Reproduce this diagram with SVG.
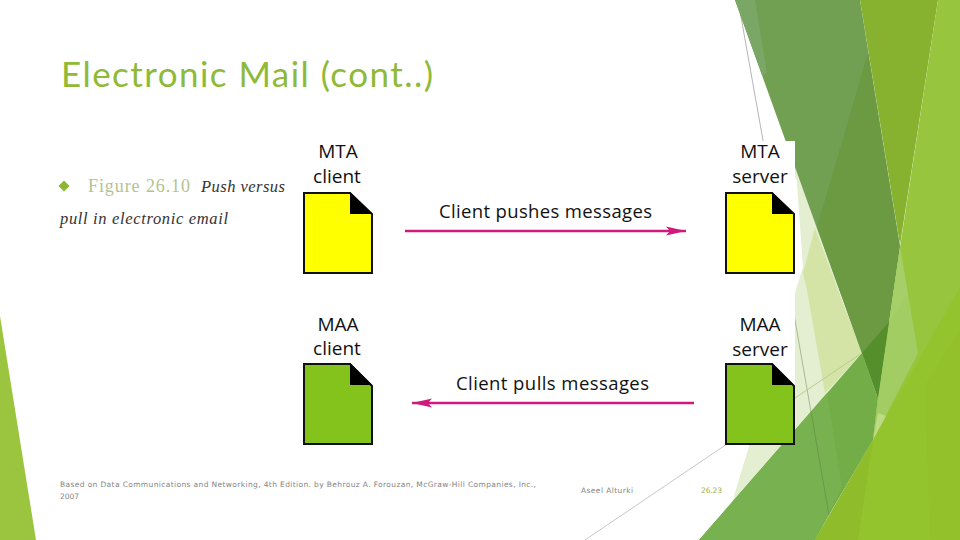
<svg xmlns="http://www.w3.org/2000/svg" width="960" height="540" viewBox="0 0 960 540">
<style>
.doc{stroke:#111;stroke-width:2}
.fold{fill:#000}
.lab{font-family:"Open Sans","Liberation Sans",sans-serif;font-size:19px;fill:#111;text-anchor:middle}
.msg{font-family:"Open Sans","Liberation Sans",sans-serif;font-size:18.5px;fill:#111}
.foot{font-family:"DejaVu Sans",sans-serif;font-size:7.5px;fill:#858585}
.ital{font-family:"Liberation Serif",serif;font-style:italic;font-size:16.5px;fill:#333}
.conn{stroke:#cf1a7c;stroke-width:2.5;fill:none}
</style>
<defs>
<marker id="ah" markerUnits="userSpaceOnUse" markerWidth="21" markerHeight="11" refX="20" refY="5.500" orient="auto"><path d="M0 1L20 5.500L0 10L4 5.500Z" fill="#cf1a7c"/></marker>
</defs>
<rect width="960" height="540" fill="#fff"/>
<g id="background">
<path d="M796 170L817 220L842 300L862 353L732 503L795 293L803 267Z" fill="#e4eed0"/>
<path d="M783 130L800 180L796 180Z" fill="#e4eed0"/>
<path d="M815 228L803 273L807 290L825 393L862 353L838 290Z" fill="#d3e4a6"/>
<path d="M738 0L795 320" stroke="#b5b5b5" stroke-width="1" fill="none"/>
<path d="M585 540L795 398" stroke="#c8c8c8" stroke-width="1" fill="none"/>
<path d="M735 0L860 0L900 247L878 398Z" fill="#72a052"/>
<path d="M735 0L755 0L767 73L762 75Z" fill="#7aa765"/>
<path d="M868 53L817 227L862 353L878 398L900 247Z" fill="#6b9a42"/>
<path d="M860 0L938 0L900 245Z" fill="#87b22f"/>
<path d="M938 0L960 0L960 540L815 540L873 440L878 398L900 247Z" fill="#97c63e"/>
<path d="M900 247L918 353L873 440L878 398Z" fill="#a2cd62"/>
<path d="M878 413L873 440L886 416Z" fill="#bcdb84"/>
<path d="M889 323L900 247L908 295Z" fill="#a6cf69"/>
<path d="M862 353L889 322L878 398Z" fill="#558f2b"/>
<path d="M699 540L862 353L878 398L873 440L829 515L815 540Z" fill="#72ad47"/>
<path d="M699 540L795 430L827 393L842 487L815 540Z" fill="#78b150"/>
<path d="M795 320L829 515" stroke="#5d7a4a" stroke-opacity=".45" stroke-width="1" fill="none"/>
<path d="M795 398L862 353" stroke="#b9cd95" stroke-width="1" fill="none"/>
<path d="M815 540L873 440L960 287L960 540Z" fill="#94c42d"/>
<path d="M815 540L858 540L873 440Z" fill="#8fbc2b"/>
<path d="M925 385L960 330L960 540L930 540Z" fill="#92c12c"/>
<path d="M0 316L36 540L0 540Z" fill="#9bc53f"/>
<rect x="297" y="141" width="498" height="304" fill="#fff"/>
</g>
<text x="61" y="87" font-family="Lato,sans-serif" font-size="35" fill="#8fba37" textLength="372" lengthAdjust="spacing">Electronic Mail (cont..)</text>
<g id="caption">
<path d="M58.500 186L64 180.500L69.500 186L64 191.500Z" fill="#8ab833"/>
<text x="88" y="192" font-family="Liberation Serif,serif" font-size="18" fill="#b5c290" textLength="102">Figure 26.10</text>
<text x="201" y="192" class="ital" textLength="84">Push versus</text>
<text x="60" y="224" class="ital" textLength="168">pull in electronic email</text>
</g>
<g id="connectors">
<path class="conn" d="M405 231L686 231" marker-end="url(#ah)"/>
<path class="conn" d="M694 403L412 403" marker-end="url(#ah)"/>
</g>
<g id="mta-client">
<path class="doc" fill="#ffff00" d="M304 193H350L372 214V273H304Z"/><path class="fold" d="M350 192L372 214H350Z"/>
<text class="lab" x="338" y="158">MTA</text><text class="lab" x="337" y="183">client</text>
</g>
<g id="mta-server">
<path class="doc" fill="#ffff00" d="M726 193H772L794 214V273H726Z"/><path class="fold" d="M772 192L794 214H772Z"/>
<text class="lab" x="760" y="158">MTA</text><text class="lab" x="760" y="183">server</text>
</g>
<g id="maa-client">
<path class="doc" fill="#84c31c" d="M304 364H350L372 386V444H304Z"/><path class="fold" d="M350 363L372 385H350Z"/>
<text class="lab" x="338" y="331">MAA</text><text class="lab" x="337" y="355">client</text>
</g>
<g id="maa-server">
<path class="doc" fill="#84c31c" d="M726 364H772L794 386V444H726Z"/><path class="fold" d="M772 363L794 385H772Z"/>
<text class="lab" x="760" y="331">MAA</text><text class="lab" x="760" y="356">server</text>
</g>
<text class="msg" x="439" y="218" textLength="213">Client pushes messages</text>
<text class="msg" x="456" y="390" textLength="193">Client pulls messages</text>
<g id="footer">
<text class="foot" x="60" y="487" textLength="476">Based on Data Communications and Networking, 4th Edition. by Behrouz A. Forouzan,  McGraw-Hill Companies, Inc.,</text>
<text class="foot" x="60" y="499">2007</text>
<text class="foot" x="581" y="493" textLength="52">Aseel Alturki</text>
<text class="foot" x="701" y="493" style="fill:#9cb04a" textLength="21">26.23</text>
</g>
</svg>
